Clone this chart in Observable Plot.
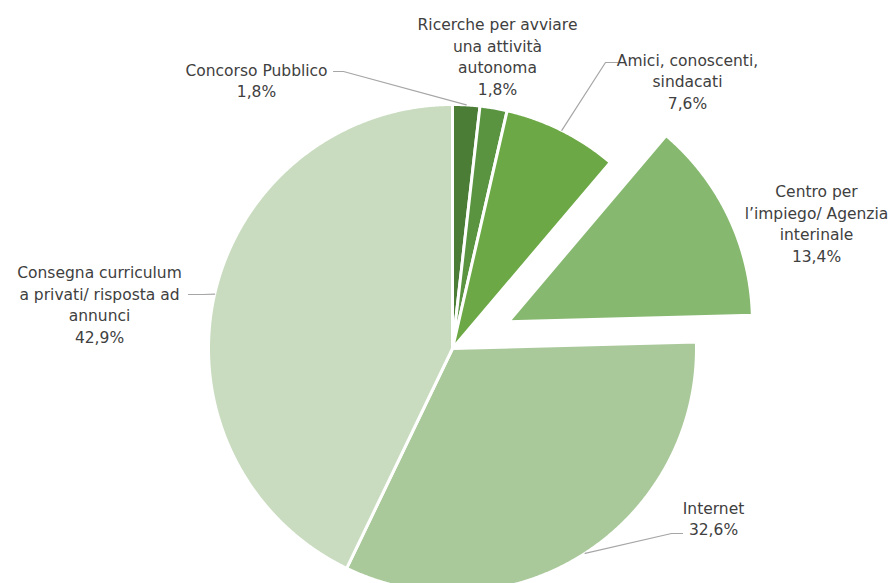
<!DOCTYPE html>
<html>
<head>
<meta charset="utf-8">
<script src="https://cdn.jsdelivr.net/npm/d3@7"></script>
<script src="https://cdn.jsdelivr.net/npm/@observablehq/plot@0.6"></script>
<style>
  html, body { margin: 0; padding: 0; background: #ffffff; overflow: hidden; }
  #chart { width: 895px; height: 583px; }
</style>
</head>
<body>
<div id="chart"></div>
<script>
// ---- data ----
const categories = [
  "Concorso Pubblico",
  "Ricerche per avviare una attività autonoma",
  "Amici, conoscenti, sindacati",
  "Centro per l’impiego/ Agenzia interinale",
  "Internet",
  "Consegna curriculum a privati/ risposta ad annunci"
];
const values = [1.8, 1.8, 7.6, 13.4, 32.6, 42.9];
const labelLines = [
  ["Concorso Pubblico"],
  ["Ricerche per avviare", "una attività", "autonoma"],
  ["Amici, conoscenti,", "sindacati"],
  ["Centro per", "l’impiego/ Agenzia", "interinale"],
  ["Internet"],
  ["Consegna curriculum", "a privati/ risposta ad", "annunci"]
];
const colors = ["#4b7d37", "#5a9441", "#6ca845", "#86b86f", "#aac99b", "#c9dcc0"];
const explodedSlice = [false, false, false, true, false, false];

// ---- layout (pixels) ----
const W = 895, H = 583;
const cx = 452, cy = 348, R = 244, explodeBy = 62;
// label block centre and leader elbow / end (null = no leader)
const labelLayout = [
  {x: 256, y: 79,  elbow: [343, 71],  end: [333, 71]},
  {x: 497, y: 55,  elbow: null, end: null},
  {x: 687, y: 80,  elbow: [605, 62],  end: [617, 62]},
  {x: 816, y: 222, elbow: null, end: null},
  {x: 713, y: 517, elbow: [671, 533], end: [682, 533]},
  {x: 99,  y: 303, elbow: [203, 294], end: [188, 294]}
];

const fmt = v => v.toFixed(1).replace(".", ",") + "%";
const rows = categories.map((c, i) => ({category: c, value: values[i], color: colors[i], exploded: explodedSlice[i]}));
const arcs = d3.pie().sort(null).value(d => d.value)(rows);

const slicePolys = arcs.map((a, i) => {
  const mid = (a.startAngle + a.endAngle) / 2;
  const off = a.data.exploded ? explodeBy : 0;
  const ox = cx + off * Math.sin(mid), oy = cy - off * Math.cos(mid);
  const pts = [{x: ox, y: oy, k: i}];
  const n = Math.max(4, Math.ceil((a.endAngle - a.startAngle) / 0.005));
  for (let j = 0; j <= n; j++) {
    const t = a.startAngle + (a.endAngle - a.startAngle) * j / n;
    pts.push({x: ox + R * Math.sin(t), y: oy - R * Math.cos(t), k: i});
  }
  pts.push({x: ox, y: oy, k: i});
  return {pts, color: a.data.color, mid, ox, oy};
});

const labels = arcs.map((a, i) => ({
  x: labelLayout[i].x,
  y: labelLayout[i].y,
  text: [...labelLines[i], fmt(a.data.value)].join("\n")
}));

const leaders = [];
arcs.forEach((a, i) => {
  const L = labelLayout[i];
  if (!L.elbow) return;
  const s = slicePolys[i];
  leaders.push({x: s.ox + R * Math.sin(s.mid), y: s.oy - R * Math.cos(s.mid), k: i});
  leaders.push({x: L.elbow[0], y: L.elbow[1], k: i});
  leaders.push({x: L.end[0], y: L.end[1], k: i});
});

const chart = Plot.plot({
  width: W,
  height: H,
  margin: 0,
  x: {domain: [0, W], range: [0, W], axis: null},
  y: {domain: [0, H], range: [0, H], axis: null},
  style: {background: "#ffffff", overflow: "visible"},
  marks: [
    ...slicePolys.map(s => Plot.line(s.pts, {
      x: "x", y: "y", fill: s.color, stroke: "#ffffff", strokeWidth: 3, strokeLinejoin: "round"
    })),
    Plot.line(leaders, {x: "x", y: "y", z: "k", stroke: "#a6a6a6", strokeWidth: 1.2}),
    Plot.text(labels, {
      x: "x", y: "y", text: "text",
      fontSize: 15.5, lineHeight: 1.4, lineAnchor: "middle", textAnchor: "middle",
      fontFamily: "DejaVu Sans", fill: "#404040"
    })
  ]
});
document.getElementById("chart").appendChild(chart);
</script>
</body>
</html>
